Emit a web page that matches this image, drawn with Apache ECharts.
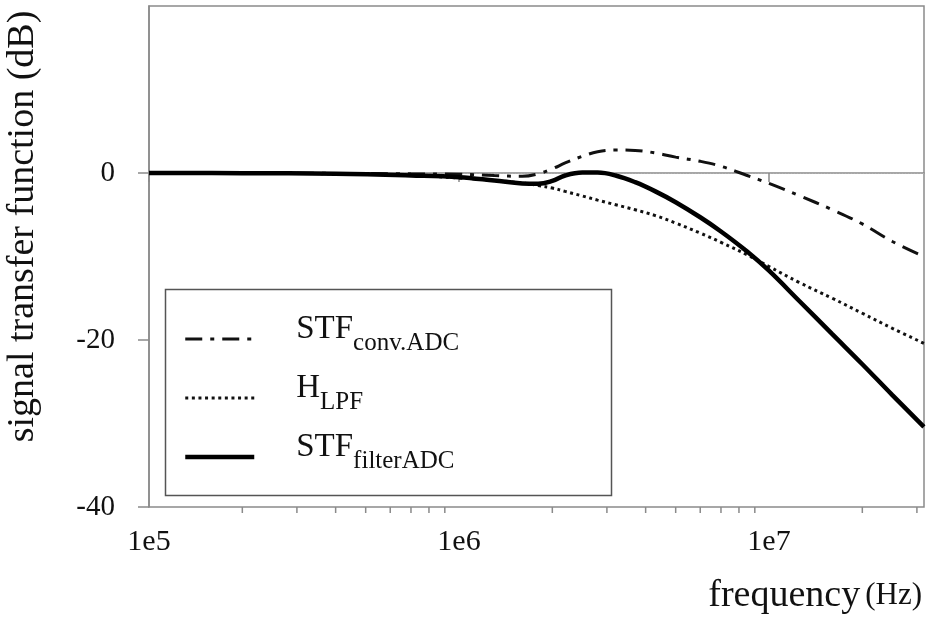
<!DOCTYPE html>
<html>
<head>
<meta charset="utf-8">
<script src="https://cdn.jsdelivr.net/npm/echarts@6/dist/echarts.min.js"></script>
<style>html,body{margin:0;padding:0;background:#fff}#c{width:930px;height:619px}</style>
</head>
<body>
<div id="c"></div>
<script>
// frequency points (Hz)
const freqs = [1e5, 2e5, 4e5, 7e5, 1e6, 1.3e6, 1.6e6, 1.8e6, 2e6, 2.2e6, 2.5e6, 2.8e6, 3.2e6, 3.7e6, 4.3e6, 5e6, 6e6, 7e6, 8.5e6, 1e7, 1.25e7, 1.6e7, 2e7, 2.5e7, 3.16e7];
// signal transfer function (dB)
const stfConv   = [0, 0, -0.05, -0.1, -0.15, -0.3, -0.4, -0.1, 0.5, 1.2, 2.0, 2.55, 2.75, 2.7, 2.4, 1.9, 1.4, 0.8, -0.3, -1.25, -2.7, -4.4, -6.1, -8.2, -10.0];
const hLpf      = [0, -0.02, -0.1, -0.3, -0.6, -0.9, -1.2, -1.5, -1.8, -2.2, -2.75, -3.25, -3.8, -4.4, -5.1, -6.0, -7.2, -8.3, -9.8, -11.2, -13.1, -15.0, -16.8, -18.6, -20.4];
const stfFilter = [0, -0.02, -0.1, -0.3, -0.5, -0.9, -1.25, -1.3, -0.95, -0.3, 0.05, 0.05, -0.3, -1.1, -2.2, -3.5, -5.3, -7.0, -9.4, -11.7, -15.3, -19.3, -22.9, -26.6, -30.4];
// axis ticks
const xMajorTicks = [1e5, 1e6, 1e7];
const xMinorTicks = [2e5, 3e5, 4e5, 5e5, 6e5, 7e5, 8e5, 9e5, 2e6, 3e6, 4e6, 5e6, 6e6, 7e6, 8e6, 9e6, 2e7, 3e7];
const yTicks = [-40, -20, 0];
const seriesNames = ['STF_conv', 'H_LPF', 'STF_filter'];

const FONT = 'Liberation Serif';
const AX = '#8a8a8a';
const pair = (ys) => freqs.map((f, i) => [f, ys[i]]);

const chart = echarts.init(document.getElementById('c'), null, {renderer: 'canvas'});
chart.setOption({
  animation: false,
  backgroundColor: '#fff',
  grid: {left: 149, right: 6, top: 6, bottom: 112, show: true, borderColor: AX, borderWidth: 1.5,
    containLabel: false, outerBoundsMode: 'none'},
  title: {
    text: '{a|frequency} {b|(Hz)}',
    right: 3, top: 572,
    textStyle: {fontWeight: 'normal', rich: {
      a: {fontFamily: FONT, fontSize: 38, color: '#111', fontWeight: 'normal'},
      b: {fontFamily: FONT, fontSize: 31, color: '#111', fontWeight: 'normal'}
    }}
  },
  legend: {
    orient: 'vertical', left: 183, top: 313, padding: 0,
    itemWidth: 69, itemHeight: 14, itemGap: 16,
    data: seriesNames,
    lineStyle: {width: 'inherit', type: 'inherit'},
    itemStyle: {opacity: 0},
    formatter: function (n) {
      if (n === 'STF_conv') return '{m|STF}{s|conv.ADC}';
      if (n === 'H_LPF') return '{m|H}{s|LPF}';
      return '{m|STF}{s|filterADC}';
    },
    textStyle: {
      padding: [4, 0, 16, 37],
      rich: {
        m: {fontFamily: FONT, fontSize: 33, color: '#111', lineHeight: 40, verticalAlign: 'top'},
        s: {fontFamily: FONT, fontSize: 25, color: '#111', lineHeight: 14, verticalAlign: 'top', padding: [18, 0, 0, 0]}
      }
    }
  },
  graphic: [{
    type: 'rect', left: 163, top: 287, z: 1,
    shape: {width: 446, height: 206},
    style: {fill: 'none', stroke: '#555', lineWidth: 1.5}
  }],
  xAxis: {
    type: 'log', logBase: 10, min: 1e5, max: Math.pow(10, 7.5),
    axisLine: {lineStyle: {color: AX, width: 1.5}},
    axisTick: {customValues: xMajorTicks, length: 9, lineStyle: {color: AX, width: 1.5}},
    axisLabel: {customValues: xMajorTicks, margin: 20, fontFamily: FONT, fontSize: 30, color: '#111',
      formatter: v => '1e' + Math.round(Math.log10(v))},
    splitLine: {show: false},
    minorTick: {show: false}
  },
  yAxis: {
    type: 'value', min: -40, max: 20, interval: 20,
    name: 'signal transfer function (dB)', nameLocation: 'middle', nameRotate: 90, nameGap: 107,
    nameTextStyle: {fontFamily: FONT, fontSize: 38, color: '#111', padding: [0, 0, 0, 60]},
    axisLine: {show: true, lineStyle: {color: AX, width: 1.5}},
    axisTick: {show: true, customValues: yTicks, length: 11, lineStyle: {color: AX, width: 1.5}},
    axisLabel: {customValues: yTicks, margin: 34, fontFamily: FONT, fontSize: 29, color: '#111'},
    splitLine: {show: false}
  },
  series: [
    {
      name: 'STF_conv', type: 'line', data: pair(stfConv), symbol: 'none', smooth: 0.4, z: 3,
      color: '#111',
      lineStyle: {color: '#111', width: 3, type: [17, 8, 4, 8]},
      markLine: {
        silent: true, symbol: 'none', label: {show: false}, z: 1,
        lineStyle: {color: '#b0b0b0', width: 1, type: [1, 2]},
        data: [{yAxis: 0}]
      }
    },
    {
      name: 'H_LPF', type: 'line', data: pair(hLpf), symbol: 'none', smooth: 0.4, z: 3,
      color: '#111',
      lineStyle: {color: '#111', width: 3, type: [3, 3.6]}
    },
    {
      name: 'STF_filter', type: 'line', data: pair(stfFilter), symbol: 'none', smooth: 0.4, z: 4,
      color: '#000',
      lineStyle: {color: '#000', width: 4.5}
    },
    {
      name: 'minorTicks', type: 'custom', silent: true, clip: false, z: 5,
      data: xMinorTicks.map(v => [v, -40]),
      renderItem: function (params, api) {
        const p = api.coord([api.value(0), api.value(1)]);
        return {type: 'line', shape: {x1: p[0], y1: p[1], x2: p[0], y2: p[1] + 6},
          style: {stroke: AX, lineWidth: 1.5}};
      }
    }
  ]
});
</script>
</body>
</html>
